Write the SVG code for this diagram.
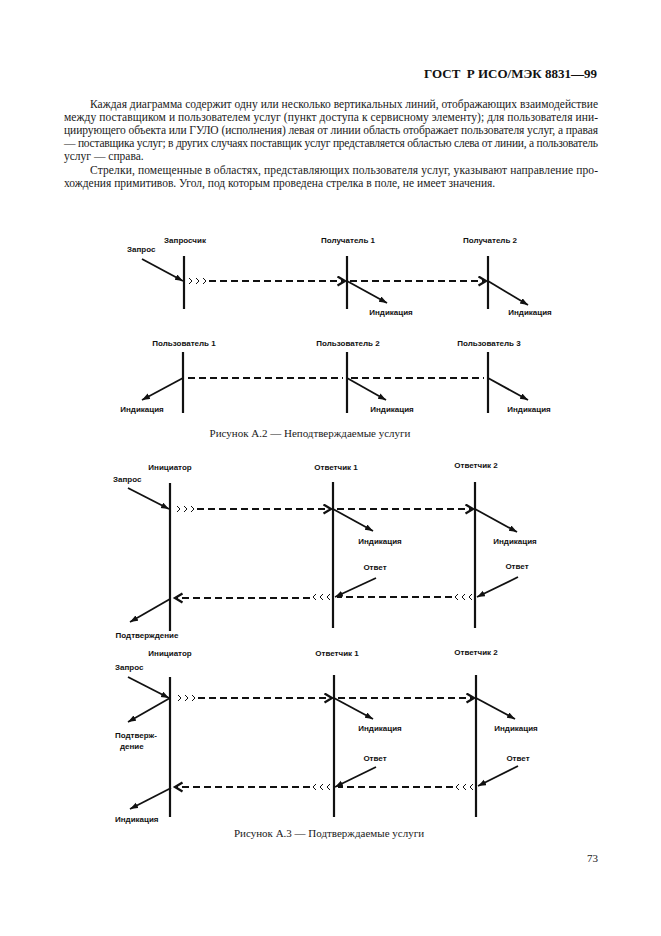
<svg xmlns="http://www.w3.org/2000/svg" width="661" height="936" viewBox="0 0 661 936">
<style>
.bg{fill:#fff}
.body{font-family:"Liberation Serif","Times New Roman",serif;font-size:11.5px;fill:#1a1a1a}
.hdr{font-family:"Liberation Serif","Times New Roman",serif;font-size:13px;font-weight:bold;fill:#111;white-space:pre}
.cap{font-family:"Liberation Serif","Times New Roman",serif;font-size:11px;fill:#1a1a1a}
.lbl{font-family:"Liberation Sans",Arial,sans-serif;font-size:8px;font-weight:bold;fill:#111}
.mid{text-anchor:middle}
.life{stroke:#111;stroke-width:2.2;fill:none}
.sol{stroke:#111;stroke-width:1.8;fill:none;marker-end:url(#ah)}
.dash{stroke:#111;stroke-width:2;fill:none;stroke-dasharray:7 4}
.dashA{stroke:#111;stroke-width:2;fill:none;stroke-dasharray:7 4;marker-end:url(#oh)}
.chev{stroke:#111;stroke-width:1;fill:none}
</style>
<defs>
<marker id="ah" markerUnits="userSpaceOnUse" markerWidth="10" markerHeight="8" refX="8" refY="3" orient="auto">
<path d="M0,0 L8,3 L0,6 z" fill="#111"/>
</marker>
<marker id="oh" markerUnits="userSpaceOnUse" markerWidth="12" markerHeight="13" refX="8.5" refY="5.5" orient="auto">
<path d="M1,1 L8.5,5.5 L1,10" fill="none" stroke="#111" stroke-width="2.3" stroke-dasharray="none"/>
</marker>
</defs>
<rect class="bg" x="0" y="0" width="661" height="936"/>

<g id="page-text">
<text class="hdr" x="597" y="78" text-anchor="end" xml:space="preserve">ГОСТ  Р ИСО/МЭК 8831—99</text>
<text class="body" x="90" y="108" textLength="508" lengthAdjust="spacing">Каждая диаграмма содержит одну или несколько вертикальных линий, отображающих взаимодействие</text>
<text class="body" x="64" y="121" textLength="534" lengthAdjust="spacing">между поставщиком и пользователем услуг (пункт доступа к сервисному элементу); для пользователя ини-</text>
<text class="body" x="64" y="134" textLength="534" lengthAdjust="spacing">циирующего объекта или ГУЛО (исполнения) левая от линии область отображает пользователя услуг, а правая</text>
<text class="body" x="64" y="147" textLength="534" lengthAdjust="spacing">— поставщика услуг; в других случаях поставщик услуг представляется областью слева от линии, а пользователь</text>
<text class="body" x="64" y="160">услуг — справа.</text>
<text class="body" x="90" y="174" textLength="508" lengthAdjust="spacing">Стрелки, помещенные в областях, представляющих пользователя услуг, указывают направление про-</text>
<text class="body" x="64" y="187">хождения примитивов. Угол, под которым проведена стрелка в поле, не имеет значения.</text>
<text class="cap mid" x="310" y="437">Рисунок А.2 — Неподтверждаемые услуги</text>
<text class="cap mid" x="329" y="837">Рисунок А.3 — Подтверждаемые услуги</text>
<text class="cap" x="598" y="862" text-anchor="end">73</text>
</g>

<!-- Figure A.2 top row -->
<g id="a2-zaproschik">
<line class="life" x1="184" y1="256" x2="184" y2="309"/>
<text class="lbl mid" x="185" y="243">Запросчик</text>
</g>
<g id="a2-poluchatel1">
<line class="life" x1="347" y1="256" x2="347" y2="309"/>
<text class="lbl mid" x="348" y="243">Получатель 1</text>
</g>
<g id="a2-poluchatel2">
<line class="life" x1="488" y1="256" x2="488" y2="309"/>
<text class="lbl mid" x="490" y="243">Получатель 2</text>
</g>

<!-- Figure A.2 bottom row -->
<g id="a2-polzovatel1">
<line class="life" x1="183" y1="352" x2="183" y2="413"/>
<text class="lbl mid" x="184" y="346">Пользователь 1</text>
</g>
<g id="a2-polzovatel2">
<line class="life" x1="347" y1="352" x2="347" y2="413"/>
<text class="lbl mid" x="348" y="346">Пользователь 2</text>
</g>
<g id="a2-polzovatel3">
<line class="life" x1="488" y1="352" x2="488" y2="413"/>
<text class="lbl mid" x="489" y="346">Пользователь 3</text>
</g>

<!-- Figure A.3 first -->
<g id="a3a-iniciator">
<line class="life" x1="170" y1="483" x2="170" y2="631"/>
<text class="lbl mid" x="170" y="470">Инициатор</text>
</g>
<g id="a3a-otvetchik1">
<line class="life" x1="333" y1="482" x2="333" y2="628"/>
<text class="lbl mid" x="336" y="470">Ответчик 1</text>
</g>
<g id="a3a-otvetchik2">
<line class="life" x1="475" y1="482" x2="475" y2="628"/>
<text class="lbl mid" x="476" y="468">Ответчик 2</text>
</g>

<!-- Figure A.3 second -->
<g id="a3b-iniciator">
<line class="life" x1="170" y1="677" x2="170" y2="817"/>
<text class="lbl mid" x="170" y="656">Инициатор</text>
</g>
<g id="a3b-otvetchik1">
<line class="life" x1="334" y1="675" x2="334" y2="817"/>
<text class="lbl mid" x="337" y="656">Ответчик 1</text>
</g>
<g id="a3b-otvetchik2">
<line class="life" x1="476" y1="675" x2="476" y2="817"/>
<text class="lbl mid" x="476" y="655">Ответчик 2</text>
</g>

<g id="connectors">
<!-- A.2 top -->
<line class="sol" x1="142" y1="259" x2="183" y2="281"/>
<text class="lbl" x="127" y="252">Запрос</text>
<polyline class="chev" points="189,278 192,281 189,284"/>
<polyline class="chev" points="196,278 199,281 196,284"/>
<polyline class="chev" points="203,278 206,281 203,284"/>
<line class="dashA" x1="209" y1="281" x2="345" y2="281"/>
<line class="dashA" x1="350" y1="281" x2="486" y2="281"/>
<line class="sol" x1="347" y1="281" x2="387" y2="303"/>
<text class="lbl mid" x="391" y="315">Индикация</text>
<line class="sol" x1="488" y1="281" x2="528" y2="305"/>
<text class="lbl mid" x="530" y="315">Индикация</text>

<!-- A.2 bottom -->
<line class="dash" x1="188" y1="378" x2="343" y2="378"/>
<line class="dash" x1="351" y1="378" x2="484" y2="378"/>
<line class="sol" x1="183" y1="378" x2="142" y2="400"/>
<text class="lbl mid" x="142" y="412">Индикация</text>
<line class="sol" x1="347" y1="378" x2="386" y2="400"/>
<text class="lbl mid" x="392" y="412">Индикация</text>
<line class="sol" x1="488" y1="378" x2="528" y2="400"/>
<text class="lbl mid" x="529" y="412">Индикация</text>

<!-- A.3 first -->
<text class="lbl" x="113" y="482">Запрос</text>
<line class="sol" x1="128" y1="488" x2="169" y2="509"/>
<polyline class="chev" points="177,506 180,509 177,512"/>
<polyline class="chev" points="184,506 187,509 184,512"/>
<polyline class="chev" points="191,506 194,509 191,512"/>
<line class="dashA" x1="197" y1="509" x2="331" y2="509"/>
<line class="dashA" x1="337" y1="509" x2="473" y2="509"/>
<line class="sol" x1="333" y1="509" x2="373" y2="531"/>
<text class="lbl mid" x="380" y="544">Индикация</text>
<line class="sol" x1="475" y1="509" x2="517" y2="532"/>
<text class="lbl mid" x="515" y="544">Индикация</text>
<text class="lbl mid" x="375" y="570">Ответ</text>
<line class="sol" x1="376" y1="578" x2="335" y2="597"/>
<polyline class="chev" points="316,594 313,597 316,600"/>
<polyline class="chev" points="323,594 320,597 323,600"/>
<polyline class="chev" points="330,594 327,597 330,600"/>
<line class="dashA" x1="310" y1="598" x2="175" y2="598"/>
<text class="lbl mid" x="517" y="569">Ответ</text>
<line class="sol" x1="518" y1="577" x2="477" y2="597"/>
<polyline class="chev" points="458,594 455,597 458,600"/>
<polyline class="chev" points="465,594 462,597 465,600"/>
<polyline class="chev" points="472,594 469,597 472,600"/>
<line class="dash" x1="452" y1="597" x2="337" y2="597"/>
<line class="sol" x1="170" y1="599" x2="130" y2="622"/>
<text class="lbl mid" x="147" y="638">Подтверждение</text>

<!-- A.3 second -->
<text class="lbl" x="115" y="670">Запрос</text>
<line class="sol" x1="128" y1="677" x2="169" y2="698"/>
<polyline class="chev" points="178,695 181,698 178,701"/>
<polyline class="chev" points="185,695 188,698 185,701"/>
<polyline class="chev" points="192,695 195,698 192,701"/>
<line class="dashA" x1="198" y1="698" x2="332" y2="698"/>
<line class="dashA" x1="338" y1="698" x2="474" y2="698"/>
<line class="sol" x1="334" y1="698" x2="373" y2="719"/>
<text class="lbl mid" x="380" y="731">Индикация</text>
<line class="sol" x1="476" y1="698" x2="515" y2="719"/>
<text class="lbl mid" x="516" y="731">Индикация</text>
<line class="sol" x1="170" y1="698" x2="128" y2="722"/>
<text class="lbl" x="115" y="738">Подтверж-</text>
<text class="lbl" x="120" y="749">дение</text>
<text class="lbl mid" x="375" y="761">Ответ</text>
<line class="sol" x1="376" y1="767" x2="335" y2="787"/>
<polyline class="chev" points="316,784 313,787 316,790"/>
<polyline class="chev" points="323,784 320,787 323,790"/>
<polyline class="chev" points="330,784 327,787 330,790"/>
<line class="dashA" x1="310" y1="787" x2="175" y2="787"/>
<text class="lbl mid" x="518" y="761">Ответ</text>
<line class="sol" x1="518" y1="766" x2="478" y2="786"/>
<polyline class="chev" points="459,784 456,787 459,790"/>
<polyline class="chev" points="466,784 463,787 466,790"/>
<polyline class="chev" points="473,784 470,787 473,790"/>
<line class="dash" x1="453" y1="787" x2="338" y2="787"/>
<line class="sol" x1="171" y1="788" x2="130" y2="809"/>
<text class="lbl" x="115" y="822">Индикация</text>
</g>
</svg>
